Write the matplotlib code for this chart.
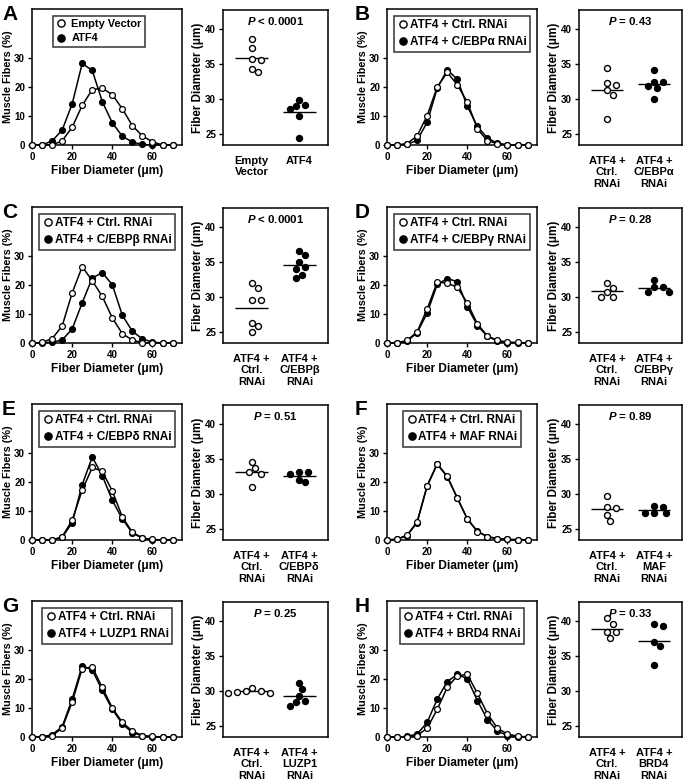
import matplotlib
matplotlib.use('Agg')
import matplotlib.pyplot as plt
import numpy as np
from matplotlib.lines import Line2D

plt.rcParams['font.family'] = ['Liberation Sans', 'DejaVu Sans']
plt.rcParams['font.weight'] = 'bold'
plt.rcParams['axes.labelweight'] = 'bold'
plt.rcParams['mathtext.fontset'] = 'custom'
plt.rcParams['mathtext.it'] = 'Liberation Sans:italic:bold'
plt.rcParams['mathtext.rm'] = 'Liberation Sans:bold'

# ---------------- data ----------------
diameters = [0, 5, 10, 15, 20, 25, 30, 35, 40, 45, 50, 55, 60, 65, 70]

A_empty_vector = [0, 0, 0, 1.4, 6.1, 13.6, 19.0, 19.5, 17.3, 12.4, 6.6, 3.1, 1.1, 0, 0]
A_atf4 = [0, 0, 1.4, 5.1, 14.1, 28.0, 25.6, 14.9, 7.6, 3.0, 1.0, 0.2, 0, 0, 0]
B_ctrl = [0, 0, 0.5, 3.1, 10.1, 19.9, 24.9, 20.7, 14.7, 5.6, 1.4, 0.5, 0, 0, 0]
B_cebpa = [0, 0, 0.2, 1.6, 7.8, 19.5, 25.8, 22.6, 13.3, 6.4, 2.4, 0.6, 0, 0, 0]
C_ctrl = [0, 0.2, 1.5, 5.8, 17.2, 26.2, 21.4, 16.0, 8.6, 3.2, 1.0, 0.1, 0, 0, 0]
C_cebpb = [0, 0, 0.3, 1.0, 4.8, 13.8, 22.3, 24.2, 20.0, 9.5, 4.0, 1.4, 0.3, 0, 0]
D_ctrl = [0, 0, 0.9, 3.8, 11.7, 20.9, 20.5, 19.2, 13.7, 6.6, 2.4, 0.9, 0.3, 0.2, 0]
D_cebpg = [0, 0, 0.7, 3.5, 10.3, 20.1, 22.1, 21.1, 12.5, 6.0, 2.3, 0.7, 0.1, 0, 0]
E_ctrl = [0, 0, 0, 1.1, 6.8, 17.1, 24.9, 23.6, 16.8, 7.9, 2.6, 0.7, 0.2, 0, 0]
E_cebpd = [0, 0, 0, 0.9, 5.9, 19.0, 28.5, 22.1, 13.6, 7.2, 2.4, 0.6, 0.1, 0, 0]
F_ctrl = [0, 0.3, 1.7, 6.2, 18.7, 26.2, 21.9, 14.3, 7.2, 2.9, 1.2, 0.5, 0.2, 0.1, 0.1]
F_maf = [0, 0.2, 1.5, 6.0, 18.5, 26.0, 21.7, 14.5, 7.3, 3.0, 1.1, 0.4, 0.2, 0.1, 0.1]
G_ctrl = [0, 0, 0.5, 3.0, 12.0, 23.5, 24.0, 17.0, 10.0, 5.0, 2.0, 0.5, 0.2, 0, 0]
G_luzp1 = [0, 0, 0.8, 3.5, 13.0, 24.5, 23.0, 16.0, 9.5, 4.5, 1.5, 0.4, 0.1, 0, 0]
H_ctrl = [0, 0, 0, 0.5, 3.0, 9.5, 17.0, 21.0, 21.5, 15.0, 8.0, 3.0, 1.0, 0.3, 0]
H_brd4 = [0, 0, 0.2, 1.0, 5.0, 13.0, 19.0, 21.5, 20.0, 12.5, 6.0, 2.0, 0.5, 0, 0]

A_dots_open = [38.6, 37.3, 35.8, 35.6, 34.3, 33.9]
A_dots_filled = [29.9, 28.6, 29.0, 29.2, 27.6, 24.5]
B_dots_open = [34.4, 32.1, 32.3, 31.3, 30.6, 27.2]
B_dots_filled = [34.1, 32.5, 32.5, 31.9, 31.6, 30.1]
C_dots_open = [32.1, 31.3, 29.6, 29.6, 26.3, 25.9, 25.0]
C_dots_filled = [36.6, 36.0, 35.0, 34.3, 34.0, 32.8, 33.2]
D_dots_open = [32.1, 31.3, 30.7, 30.0, 30.1]
D_dots_filled = [32.5, 31.4, 31.4, 30.7, 30.7]
E_dots_open = [34.6, 33.2, 33.7, 32.95, 31.1]
E_dots_filled = [33.2, 32.95, 33.2, 31.7, 32.1]
F_dots_open = [29.8, 28.2, 28.0, 27.1, 26.2]
F_dots_filled = [28.4, 28.2, 27.4, 27.3, 27.3]
G_dots_open = [30.4, 30.1, 29.9, 29.8, 29.7, 30.0]
G_dots_filled = [31.2, 30.3, 29.4, 28.6, 28.5, 27.9]
H_dots_open = [40.4, 39.6, 38.5, 38.4, 37.6]
H_dots_filled = [39.6, 39.3, 37.0, 36.5, 33.7]

panel_letters = ['A', 'B', 'C', 'D', 'E', 'F', 'G', 'H']
legend_open = ['Empty Vector'] + ['ATF4 + Ctrl. RNAi'] * 7
legend_filled = ['ATF4', 'ATF4 + C/EBPα RNAi', 'ATF4 + C/EBPβ RNAi',
                 'ATF4 + C/EBPγ RNAi', 'ATF4 + C/EBPδ RNAi', 'ATF4 + MAF RNAi',
                 'ATF4 + LUZP1 RNAi', 'ATF4 + BRD4 RNAi']
group_open = ['Empty\nVector'] + ['ATF4 +\nCtrl.\nRNAi'] * 7
group_filled = ['ATF4', 'ATF4 +\nC/EBPα\nRNAi', 'ATF4 +\nC/EBPβ\nRNAi',
                'ATF4 +\nC/EBPγ\nRNAi', 'ATF4 +\nC/EBPδ\nRNAi', 'ATF4 +\nMAF\nRNAi',
                'ATF4 +\nLUZP1\nRNAi', 'ATF4 +\nBRD4\nRNAi']
p_values = ['< 0.0001', '= 0.43', '< 0.0001', '= 0.28', '= 0.51', '= 0.89',
            '= 0.25', '= 0.33']

hist_open = [A_empty_vector, B_ctrl, C_ctrl, D_ctrl, E_ctrl, F_ctrl, G_ctrl, H_ctrl]
hist_filled = [A_atf4, B_cebpa, C_cebpb, D_cebpg, E_cebpd, F_maf, G_luzp1, H_brd4]
dots_open = [A_dots_open, B_dots_open, C_dots_open, D_dots_open, E_dots_open,
             F_dots_open, G_dots_open, H_dots_open]
dots_filled = [A_dots_filled, B_dots_filled, C_dots_filled, D_dots_filled,
               E_dots_filled, F_dots_filled, G_dots_filled, H_dots_filled]

# ---------------- layout ----------------
W, H = 684, 784
fig = plt.figure(figsize=(W / 100, H / 100), dpi=100)


def add_ax(x0, y0, x1, y1):
    return fig.add_axes([x0 / W, 1 - y1 / H, (x1 - x0) / W, (y1 - y0) / H])


def swarm(ax, pos, vals, d_px):
    inv = ax.transData.inverted()
    pts = ax.transData.transform(np.column_stack([np.full(len(vals), pos), vals]))
    order = np.argsort(-np.asarray(vals))
    placed = []
    xs = np.zeros(len(vals))
    cands = [0]
    for k in range(1, 12):
        cands += [k * 0.5 * d_px, -k * 0.5 * d_px]
    for i in order:
        px, py = pts[i]
        for c in cands:
            ok = all((px + c - qx) ** 2 + (py - qy) ** 2 >= (d_px * 1.1) ** 2
                     for qx, qy in placed)
            if ok:
                placed.append((px + c, py))
                xs[i] = inv.transform((px + c, py))[0]
                break
    return xs


row_tops = [9, 207, 404, 601]
col_line = [(32, 182), (387, 537)]
col_dot = [(223, 328), (579, 682)]
letter_x = [2, 355]
AH = 136

for i in range(8):
    r, c = divmod(i, 2)
    top = row_tops[r]
    # ---- histogram panel ----
    ax = add_ax(col_line[c][0], top, col_line[c][1], top + AH)
    ax.plot(diameters, hist_filled[i], '-o', color='black', lw=1.1, ms=4.2,
            mfc='black', mec='black', mew=0.9, clip_on=False, zorder=3)
    ax.plot(diameters, hist_open[i], '-o', color='black', lw=1.1, ms=4.2,
            mfc='white', mec='black', mew=0.9, clip_on=False, zorder=4)
    ax.set_xlim(0, 74.7)
    ax.set_ylim(0, 46.7)
    ax.set_xticks([0, 20, 40, 60])
    ax.set_yticks([0, 10, 20, 30])
    ax.tick_params(direction='out', length=3, width=1, labelsize=7.0, pad=2)
    for s in ax.spines.values():
        s.set_linewidth(1.1)
    ax.set_xlabel('Fiber Diameter (μm)', fontsize=8.6, labelpad=2)
    ax.set_ylabel('Muscle Fibers (%)', fontsize=7.8)
    ax.yaxis.set_label_coords(-0.125, 0.5)
    handles = [Line2D([], [], ls='none', marker='o', ms=5.2, mfc='white',
                      mec='black', mew=1.0),
               Line2D([], [], ls='none', marker='o', ms=5.2, mfc='black',
                      mec='black', mew=1.0)]
    anchor_x = 0.447 if i == 0 else 0.5
    leg = ax.legend(handles, [legend_open[i], legend_filled[i]],
                    loc='upper center', bbox_to_anchor=(anchor_x, 0.95),
                    fontsize=7.9 if i == 0 else 8.5, frameon=True,
                    fancybox=False, edgecolor='black', handlelength=0.9,
                    handletextpad=0.45 if i == 0 else 0.12,
                    labelspacing=0.4, borderpad=0.3, borderaxespad=0)
    leg.get_frame().set_linewidth(1.1)
    fig.text(letter_x[c] / W, 1 - (top - 4) / H, panel_letters[i],
             fontsize=15, fontweight='bold', ha='left', va='top')

    # ---- dot panel ----
    dx = add_ax(col_dot[c][0], top + 1, col_dot[c][1], top + AH)
    dx.set_xlim(0.4, 2.6)
    dx.set_ylim(23.5, 42.7)
    dx.set_yticks([25, 30, 35, 40])
    dx.set_xticks([1, 2])
    dx.set_xticklabels([group_open[i], group_filled[i]], fontsize=8.0,
                       linespacing=1.15, va='top')
    dx.tick_params(axis='x', length=0, pad=8)
    dx.tick_params(axis='y', direction='out', length=3, width=1,
                   labelsize=7.0, pad=2)
    for s in dx.spines.values():
        s.set_linewidth(1.1)
    dx.set_ylabel('Fiber Diameter (μm)', fontsize=8.4)
    dx.yaxis.set_label_coords(-0.185, 0.5)
    d_px = 6.0
    xo = swarm(dx, 1, dots_open[i], d_px)
    xf = swarm(dx, 2, dots_filled[i], d_px)
    dx.plot(xo, dots_open[i], 'o', ms=4.3, mfc='white', mec='black', mew=1.0,
            zorder=4)
    dx.plot(xf, dots_filled[i], 'o', ms=4.3, mfc='black', mec='black', mew=1.0,
            zorder=4)
    dx.hlines(np.mean(dots_open[i]), 1 - 0.34, 1 + 0.34, color='black', lw=1.0,
              zorder=3)
    dx.hlines(np.mean(dots_filled[i]), 2 - 0.34, 2 + 0.34, color='black',
              lw=1.0, zorder=3)
    dx.text(0.5, 0.915, r'$P$ ' + p_values[i], transform=dx.transAxes,
            ha='center', va='center', fontsize=8.2, fontweight='bold')

fig.savefig('out.png', dpi=100)
